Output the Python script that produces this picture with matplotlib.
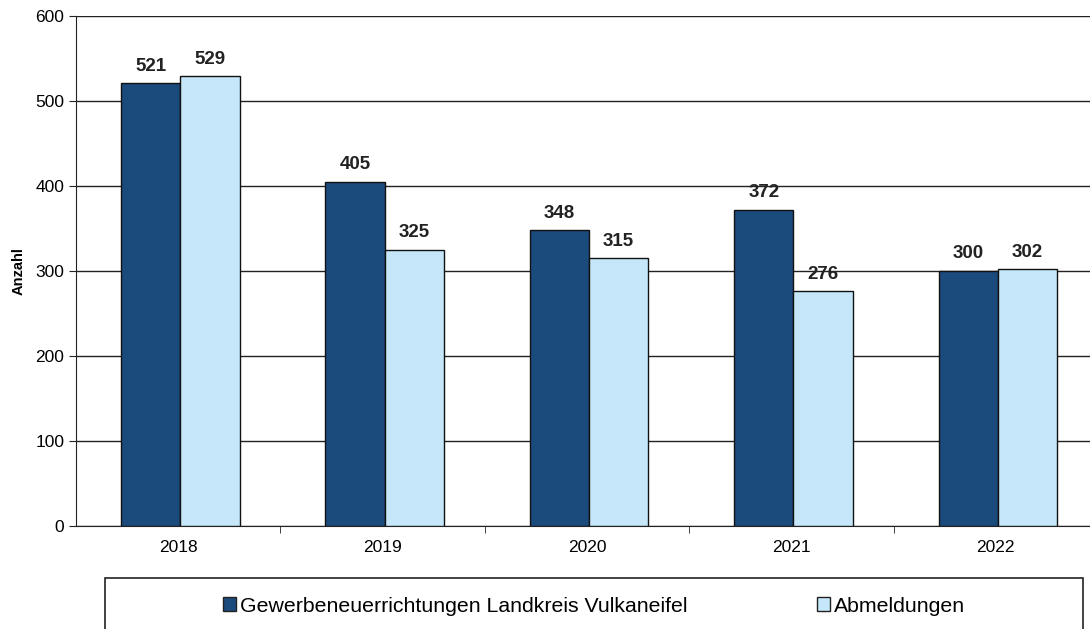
import numpy as np
import matplotlib
matplotlib.use('Agg')
import matplotlib.pyplot as plt
from matplotlib.patches import Rectangle, Patch

years = ['2018', '2019', '2020', '2021', '2022']
neuerrichtungen = [521, 405, 348, 372, 300]
abmeldungen = [529, 325, 315, 276, 302]
labels = ['Gewerbeneuerrichtungen Landkreis Vulkaneifel', 'Abmeldungen']

dark = '#1b4a7c'
light = '#c6e7fa'

plt.rcParams['font.family'] = ['Liberation Sans', 'DejaVu Sans']

fig = plt.figure(figsize=(10.9, 6.29), dpi=100)
ax = fig.add_axes([76/1090, 103/629, 1022/1090, 510/629])

x = np.arange(len(years))
w = 0.29
b1 = ax.bar(x - w/2 + 0.01, neuerrichtungen, w, color=dark, edgecolor='#111111', linewidth=1, zorder=3)
b2 = ax.bar(x + w/2 + 0.01, abmeldungen, w, color=light, edgecolor='#111111', linewidth=1, zorder=3)

for bars, vals in [(b1, neuerrichtungen), (b2, abmeldungen)]:
    for r, v in zip(bars, vals):
        ax.text(r.get_x() + r.get_width()/2, v + 10, str(v), ha='center', va='bottom',
                fontsize=13.5, fontweight='bold', color='#222222')

ax.set_xlim(-0.5, len(years) - 0.5)
ax.set_ylim(0, 600)
ax.set_yticks(range(0, 601, 100))
ax.yaxis.grid(True, color='#222222', linewidth=1, zorder=0)
ax.set_axisbelow(True)
ax.set_xticks(x)
ax.set_xticklabels(years, fontsize=12.5)
ax.tick_params(axis='x', length=0, pad=10)
ax.set_xticks(np.arange(0.5, len(years) - 0.5, 1), minor=True)
ax.tick_params(axis='x', which='minor', length=5, direction='out', color='#222222')
ax.tick_params(axis='y', labelsize=12.5, length=5, color='#222222')
for s in ['top', 'right']:
    ax.spines[s].set_visible(False)
ax.spines['left'].set_color('#222222')
ax.spines['bottom'].set_color('#222222')
ax.set_ylabel('Anzahl', fontsize=10.5, fontweight='bold', labelpad=7)

# legend frame
fig.patches.append(Rectangle((105/1090, -0.05), (1083-105)/1090, 0.05 + 51/629,
                             transform=fig.transFigure, fill=False,
                             edgecolor='#222222', linewidth=1.2))
handles = [Patch(facecolor=dark, edgecolor='#222222'), Patch(facecolor=light, edgecolor='#222222')]
fig.legend(handles, labels, loc='center', bbox_to_anchor=(594/1090, 1 - 606/629),
           ncol=2, frameon=False, fontsize=15.3, columnspacing=6.1,
           handlelength=0.6, handleheight=0.6, handletextpad=0.2)

fig.savefig('out.png', dpi=100)
